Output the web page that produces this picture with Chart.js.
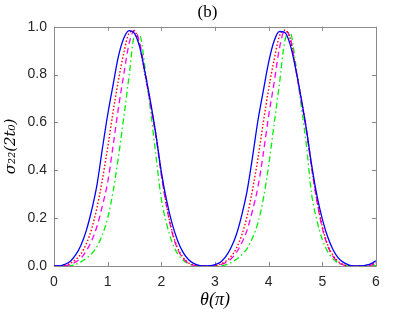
<!DOCTYPE html>
<html>
<head>
<meta charset="utf-8">
<script src="https://cdn.jsdelivr.net/npm/chart.js@4.4.1/dist/chart.umd.min.js"></script>
<style>
  html, body { margin: 0; padding: 0; background: #fff; }
  #wrap { width: 415px; height: 312px; }
</style>
</head>
<body>
<div id="wrap"><canvas id="myChart" width="415" height="312"></canvas></div>
<script>
// theta in units of pi
const theta = [0, 0.1, 0.2, 0.3, 0.4, 0.5, 0.6, 0.7, 0.8, 0.9,
  1.0, 1.1, 1.2, 1.3, 1.4, 1.5, 1.6, 1.7, 1.8, 1.9,
  2.0, 2.1, 2.2, 2.3, 2.4, 2.5, 2.6, 2.7, 2.8, 2.9,
  3.0, 3.1, 3.2, 3.3, 3.4, 3.5, 3.6, 3.7, 3.8, 3.9,
  4.0, 4.1, 4.2, 4.3, 4.4, 4.5, 4.6, 4.7, 4.8, 4.9,
  5.0, 5.1, 5.2, 5.3, 5.4, 5.5, 5.6, 5.7, 5.8, 5.9, 6.0];

// sigma_22(2 t0)
const sigmaBlue = [0, 0, 0.007, 0.019, 0.045, 0.086, 0.147, 0.232, 0.338, 0.488,
  0.632, 0.756, 0.876, 0.952, 0.984, 0.972, 0.913, 0.804, 0.684, 0.548,
  0.392, 0.272, 0.178, 0.108, 0.059, 0.028, 0.011, 0.003, 0, 0.001,
  0.006, 0.016, 0.039, 0.077, 0.133, 0.214, 0.316, 0.456, 0.608, 0.732,
  0.852, 0.939, 0.980, 0.976, 0.926, 0.828, 0.708, 0.576, 0.424, 0.294,
  0.196, 0.121, 0.068, 0.033, 0.014, 0.004, 0, 0, 0.003, 0.009, 0.022];

const sigmaRed = [0, 0, 0.003, 0.011, 0.026, 0.05, 0.092, 0.154, 0.243, 0.359,
  0.495, 0.642, 0.776, 0.89, 0.973, 0.982, 0.914, 0.794, 0.677, 0.548,
  0.388, 0.25, 0.146, 0.077, 0.037, 0.014, 0.004, 0, 0, 0,
  0.002, 0.008, 0.02, 0.04, 0.075, 0.13, 0.21, 0.32, 0.45, 0.60,
  0.74, 0.86, 0.96, 0.985, 0.95, 0.83, 0.71, 0.575, 0.415, 0.275,
  0.165, 0.088, 0.044, 0.018, 0.005, 0, 0, 0, 0.001, 0.005, 0.013];

const sigmaMagenta = [0, 0, 0.001, 0.006, 0.016, 0.033, 0.063, 0.105, 0.165, 0.25,
  0.35, 0.50, 0.66, 0.80, 0.93, 0.985, 0.93, 0.80, 0.67, 0.54,
  0.38, 0.245, 0.14, 0.072, 0.034, 0.012, 0.003, 0, 0, 0,
  0.001, 0.005, 0.014, 0.03, 0.057, 0.097, 0.152, 0.233, 0.33, 0.47,
  0.628, 0.764, 0.91, 0.982, 0.955, 0.83, 0.70, 0.57, 0.41, 0.27,
  0.158, 0.084, 0.04, 0.015, 0.004, 0, 0, 0, 0, 0.003, 0.011];

const sigmaGreen = [0, 0, 0, 0.001, 0.006, 0.017, 0.032, 0.051, 0.081, 0.13,
  0.20, 0.31, 0.455, 0.62, 0.795, 0.96, 0.96, 0.82, 0.65, 0.46,
  0.28, 0.175, 0.10, 0.052, 0.025, 0.01, 0.002, 0, 0, 0,
  0, 0.001, 0.005, 0.014, 0.028, 0.047, 0.074, 0.118, 0.18, 0.28,
  0.42, 0.59, 0.76, 0.94, 0.976, 0.85, 0.68, 0.51, 0.30, 0.19,
  0.11, 0.06, 0.03, 0.012, 0.004, 0, 0, 0, 0, 0, 0.003];

const xTicks = [0, 1, 2, 3, 4, 5, 6];
const yTicks = [0, 0.2, 0.4, 0.6, 0.8, 1.0];

const pts = ys => theta.map((t, i) => ({ x: t, y: ys[i] }));

// full box with inward ticks, matlab style
const boxPlugin = {
  id: 'box',
  beforeDatasetsDraw(chart) {
    const { ctx, chartArea: a, scales } = chart;
    const len = 4;
    ctx.save();
    ctx.strokeStyle = '#8a8a8a';
    ctx.lineWidth = 1;
    ctx.beginPath();
    ctx.rect(Math.round(a.left) + 0.5, Math.round(a.top) + 0.5,
      Math.round(a.right - a.left), Math.round(a.bottom - a.top));
    xTicks.forEach(v => {
      const px = Math.round(scales.x.getPixelForValue(v)) + 0.5;
      ctx.moveTo(px, a.bottom); ctx.lineTo(px, a.bottom - len);
      ctx.moveTo(px, a.top); ctx.lineTo(px, a.top + len);
    });
    yTicks.forEach(v => {
      const py = Math.round(scales.y.getPixelForValue(v)) + 0.5;
      ctx.moveTo(a.left, py); ctx.lineTo(a.left + len, py);
      ctx.moveTo(a.right, py); ctx.lineTo(a.right - len, py);
    });
    ctx.stroke();
    ctx.restore();
  }
};

const tickFont = { family: 'Liberation Sans, Arial, sans-serif', size: 14 };

new Chart(document.getElementById('myChart').getContext('2d'), {
  type: 'line',
  data: {
    datasets: [
      { data: pts(sigmaBlue), borderColor: '#0000ff', borderWidth: 1.3 },
      { data: pts(sigmaRed), borderColor: '#ff0000', borderWidth: 1.4, borderDash: [1.5, 2] },
      { data: pts(sigmaMagenta), borderColor: '#ff00ff', borderWidth: 1.3, borderDash: [6, 4] },
      { data: pts(sigmaGreen), borderColor: '#00f000', borderWidth: 1.3, borderDash: [6, 3, 1.5, 3] }
    ]
  },
  options: {
    responsive: false,
    animation: false,
    devicePixelRatio: 1,
    layout: { padding: 0 },
    elements: {
      point: { radius: 0 },
      line: { cubicInterpolationMode: 'monotone', fill: false }
    },
    plugins: {
      legend: { display: false },
      tooltip: { enabled: false },
      title: {
        display: true,
        text: '(b)',
        color: '#000',
        font: { family: 'Liberation Serif, serif', size: 17, weight: 'normal', lineHeight: 1.1 },
        padding: { top: 3, bottom: 5 }
      }
    },
    scales: {
      x: {
        type: 'linear',
        min: 0, max: 6,
        grid: { display: false, drawTicks: false },
        border: { display: false },
        ticks: { stepSize: 1, padding: 8, color: '#262626', font: tickFont, maxRotation: 0 },
        title: {
          display: true, text: 'θ(π)', color: '#000',
          font: { family: 'Liberation Serif, serif', size: 18, style: 'italic' },
          padding: { top: 0, bottom: 1 }
        },
        afterFit: s => { s.height = 46; }
      },
      y: {
        min: 0, max: 1,
        grid: { display: false, drawTicks: false },
        border: { display: false },
        ticks: { stepSize: 0.2, padding: 7, color: '#262626', font: tickFont,
          callback: v => v.toFixed(1) },
        title: {
          display: true, text: 'σ₂₂(2t₀)', color: '#000',
          font: { family: 'DejaVu Serif, serif', size: 15, style: 'italic' },
          padding: { top: 2, bottom: 0 }
        },
        afterFit: s => { s.width = 54; }
      },
      yRight: {
        position: 'right',
        min: 0, max: 1,
        grid: { display: false, drawTicks: false },
        border: { display: false },
        ticks: { display: false },
        afterFit: s => { s.width = 39; }
      }
    }
  },
  plugins: [boxPlugin]
});
</script>
</body>
</html>
